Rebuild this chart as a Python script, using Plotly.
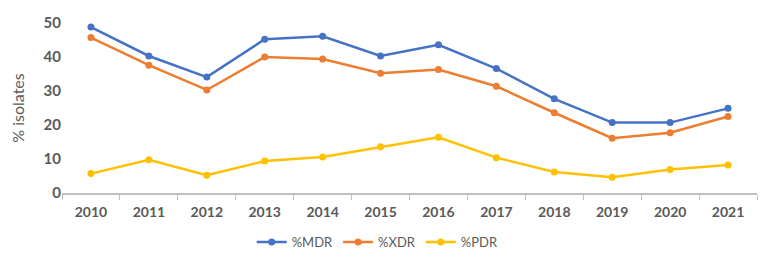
import plotly.graph_objects as go

years = ["2010","2011","2012","2013","2014","2015","2016","2017","2018","2019","2020","2021"]
mdr = [48.8, 40.3, 34.1, 45.2, 46.1, 40.3, 43.6, 36.6, 27.7, 20.7, 20.7, 24.9]
xdr = [45.7, 37.6, 30.3, 40.0, 39.4, 35.2, 36.3, 31.4, 23.6, 16.1, 17.7, 22.5]
pdr = [5.7, 9.8, 5.2, 9.4, 10.6, 13.6, 16.4, 10.4, 6.2, 4.6, 6.9, 8.2]

series = [("%MDR", mdr, "#4472C4"), ("%XDR", xdr, "#ED7D31"), ("%PDR", pdr, "#FFC000")]

fig = go.Figure()
for name, vals, col in series:
    fig.add_trace(go.Scatter(x=years, y=vals, name=name, mode="lines+markers",
                             line=dict(color=col, width=2.5),
                             marker=dict(color=col, size=7)))

fig.update_layout(
    width=767, height=260,
    margin=dict(l=54, r=18, t=15, b=75, autoexpand=False),
    paper_bgcolor="white", plot_bgcolor="white",
    font=dict(family="Lato, Open Sans, sans-serif", color="#595959"),
    showlegend=True,
    legend=dict(orientation="h", xref="container", yref="container", x=0.482, xanchor="center",
                y=0.10, yanchor="middle", font=dict(size=13, color="#595959"),
                itemwidth=30, tracegroupgap=0),
    xaxis=dict(type="category", tickson="boundaries", ticks="outside", ticklen=5,
               tickcolor="#BFBFBF", showline=True, linecolor="#BFBFBF", linewidth=1.5,
               showgrid=False, tickfont=dict(size=14, color="#595959", family="Lato"),
               ticklabelstandoff=5, range=[-0.5, 11.5]),
    yaxis=dict(range=[0, 50], dtick=10, showgrid=False, zeroline=False, showline=False,
               tickfont=dict(size=15, color="#595959", family="Lato"),
               title=dict(text="% isolates", font=dict(size=16, color="#595959"), standoff=14),
               ticks=""),
)
fig.update_xaxes(tickprefix="<b>", ticksuffix="</b>")
fig.update_yaxes(tickprefix="<b>", ticksuffix="</b>")

fig.write_html("out.html")
